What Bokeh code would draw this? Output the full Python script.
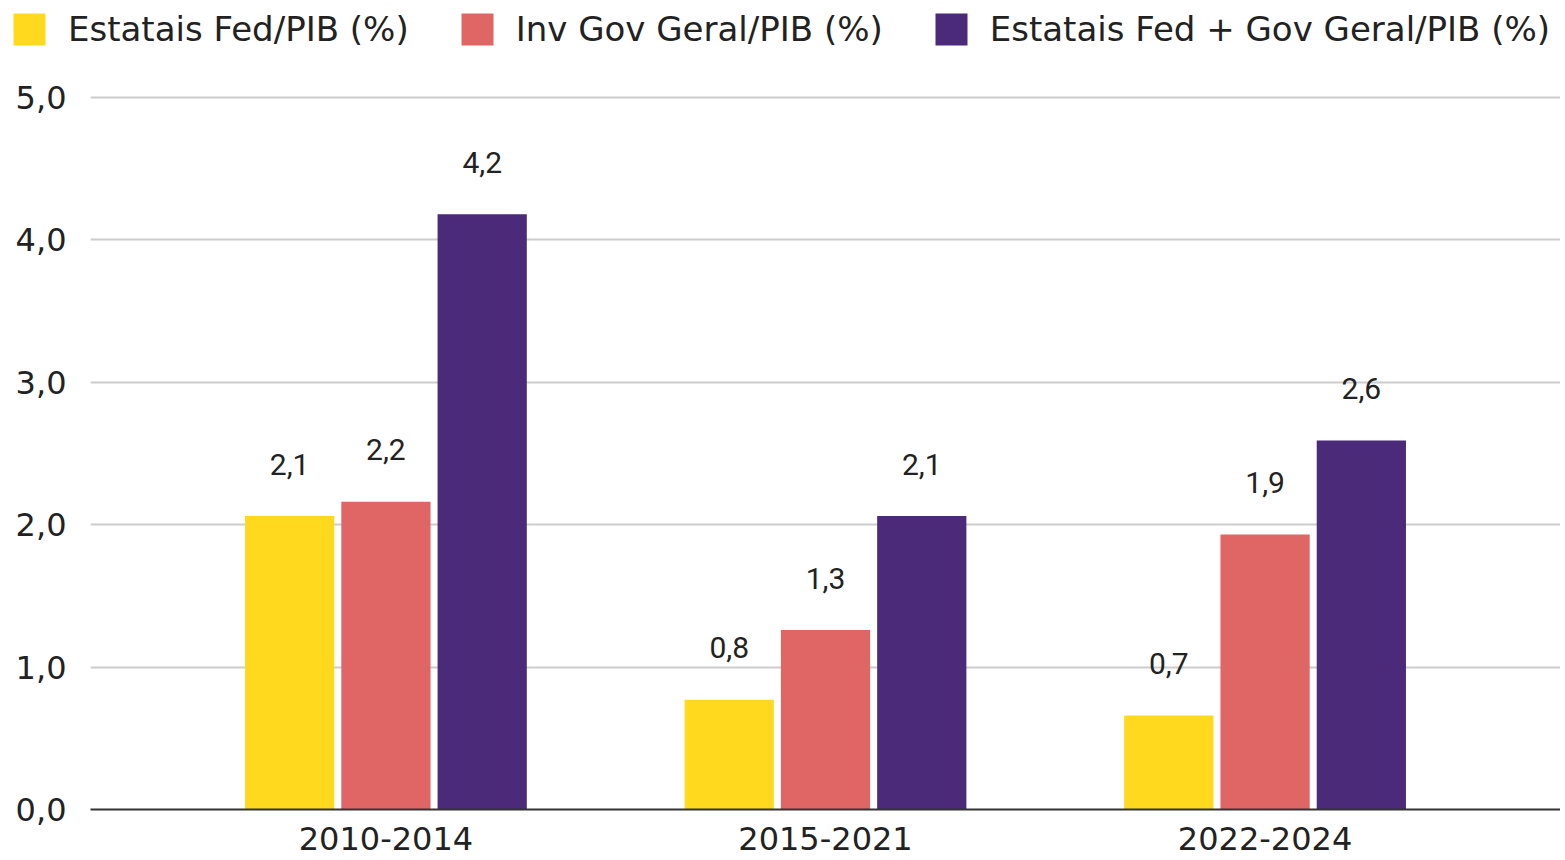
from bokeh.plotting import figure
from bokeh.models import ColumnDataSource, FactorRange, Range1d, Legend, LegendItem, FixedTicker
from bokeh.transform import dodge
from bokeh.core.properties import value
from bokeh.embed import file_html
from bokeh.resources import INLINE

# ---- data ----
periods = ["2010-2014", "2015-2021", "2022-2024"]
series_names = ["Estatais Fed/PIB (%)", "Inv Gov Geral/PIB (%)", "Estatais Fed + Gov Geral/PIB (%)"]
estatais_fed = [2.06, 0.77, 0.66]
inv_gov_geral = [2.16, 1.26, 1.93]
estatais_mais_gov = [4.18, 2.06, 2.59]
y_ticks = [0, 1, 2, 3, 4, 5]
y_tick_labels = ["0,0", "1,0", "2,0", "3,0", "4,0", "5,0"]

# ---- style ----
colors = ["#FFD91E", "#E06666", "#4B2A7A"]
offsets = [-0.219, 0.0, 0.219]
bar_width = 0.203
axis_font = "DejaVu Sans"
text_color = "#222222"
W = 1560
LEG_H = 60


def fmt(v):
    return f"{v:.1f}".replace(".", ",")


# ---- legend strip (own root) ----
lg = figure(width=1565, height=LEG_H, x_range=Range1d(0, 1), y_range=Range1d(0, 1),
            x_axis_type=None, y_axis_type=None, output_backend="svg", toolbar_location=None,
            min_border=0, background_fill_color="white", border_fill_color="white")
lg.outline_line_color = None
lg.xgrid.visible = False
lg.ygrid.visible = False
# swatch renderers: one bar each, placed outside the visible range so only the legend shows them
dummy = [lg.vbar(x=[10], top=[10], bottom=[9], width=0.1, fill_color=c, line_color=None)
         for c in colors]
legend = Legend(
    items=[LegendItem(label=series_names[i], renderers=[dummy[i]]) for i in range(3)],
    orientation="horizontal", location=(9, 11),
    glyph_width=40, glyph_height=40, label_standoff=19, spacing=48,
    padding=0, margin=0, border_line_color=None, background_fill_alpha=0,
    label_text_font=axis_font, label_text_font_size="34px", label_text_color=text_color,
)
lg.add_layout(legend)

# ---- main chart ----
p = figure(
    x_range=FactorRange(factors=periods, range_padding=0.1147),
    y_range=Range1d(0, 5.02),
    width=W, height=858 - LEG_H,
    output_backend="svg", toolbar_location=None,
    min_border_left=90, min_border_right=0, min_border_top=94 - LEG_H, min_border_bottom=49,
    background_fill_color="white", border_fill_color="white",
)
p.outline_line_color = None

series_values = [estatais_fed, inv_gov_geral, estatais_mais_gov]
for i, vals in enumerate(series_values):
    src = ColumnDataSource(dict(period=periods, val=vals, label=[fmt(v) for v in vals]))
    p.vbar(x=dodge("period", offsets[i], range=p.x_range), top="val", width=bar_width,
           source=src, fill_color=colors[i], line_color=None)
    p.text(x=dodge("period", offsets[i], range=p.x_range), y="val", text="label", source=src,
           y_offset=-52, text_align="center", text_baseline="middle",
           text_font=value("Roboto"), text_font_size="30px", text_color=text_color)

p.yaxis.ticker = FixedTicker(ticks=y_ticks)
p.yaxis.major_label_overrides = dict(zip(y_ticks, y_tick_labels))
p.yaxis.axis_line_color = None
p.yaxis.major_tick_line_color = None
p.yaxis.minor_tick_line_color = None
p.yaxis.major_label_standoff = 18
p.yaxis.major_label_text_font = axis_font
p.yaxis.major_label_text_font_size = "32px"
p.yaxis.major_label_text_color = text_color

p.xaxis.axis_line_color = "#333333"
p.xaxis.axis_line_width = 2
p.xaxis.major_tick_line_color = None
p.xaxis.minor_tick_line_color = None
p.xaxis.major_label_standoff = 11
p.xaxis.major_label_text_font = axis_font
p.xaxis.major_label_text_font_size = "32px"
p.xaxis.major_label_text_color = text_color

p.xgrid.grid_line_color = None
p.ygrid.grid_line_color = "#cccccc"
p.ygrid.grid_line_width = 2

open("out.html", "w").write(file_html([lg, p], INLINE))
